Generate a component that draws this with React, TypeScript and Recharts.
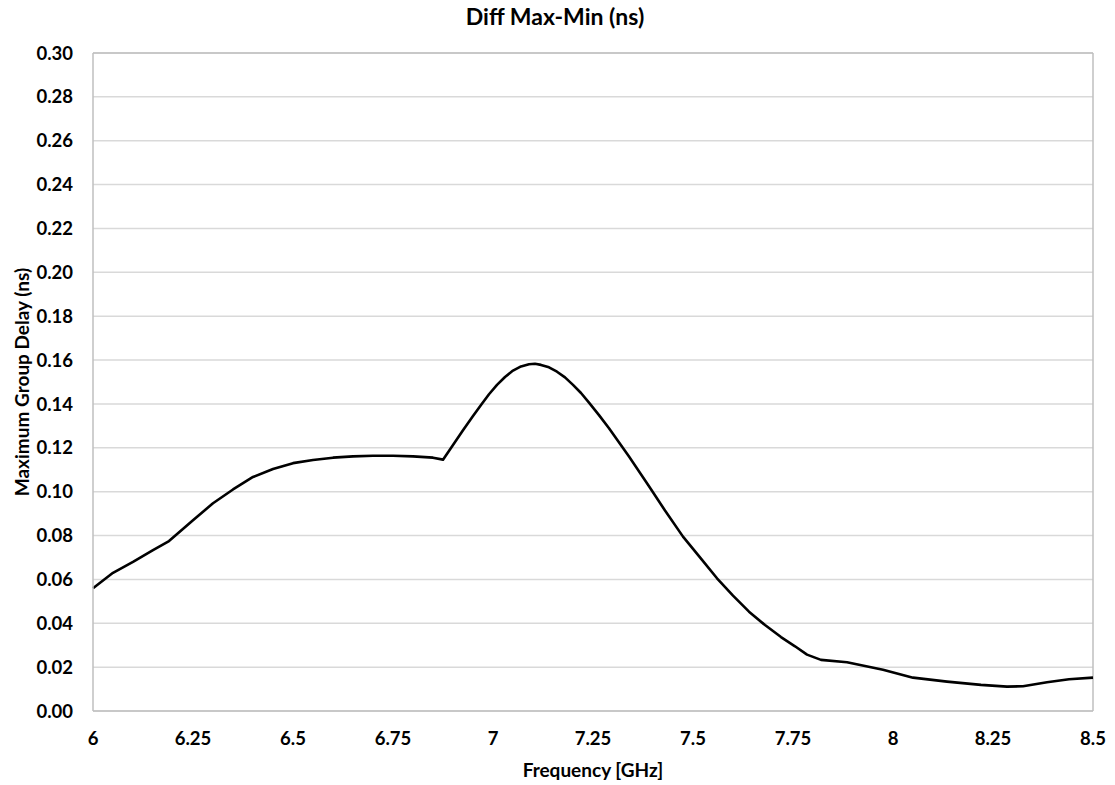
import { LineChart, Line, XAxis, YAxis, CartesianGrid, ReferenceLine, Label } from 'recharts';

const FREQUENCIES = [
  6.0, 6.05, 6.1, 6.15, 6.19, 6.25, 6.3, 6.35, 6.4, 6.45, 6.5, 6.55, 6.6, 6.65, 6.7, 6.75, 6.8, 6.85, 6.875,
  6.925, 6.95, 6.97, 6.99, 7.01, 7.03, 7.05, 7.07, 7.09, 7.105, 7.12, 7.14, 7.16, 7.18, 7.2, 7.22, 7.24,
  7.265, 7.29, 7.34, 7.39, 7.43, 7.475, 7.52, 7.56, 7.6, 7.64, 7.68, 7.72, 7.755, 7.785, 7.82, 7.885,
  7.975, 8.05, 8.135, 8.22, 8.285, 8.325, 8.385, 8.44, 8.5,
];

const DIFF_NS = [
  0.056, 0.063, 0.068, 0.0734, 0.0775, 0.087, 0.0947, 0.101, 0.1067, 0.1103, 0.113, 0.1144, 0.1155, 0.1161,
  0.1164, 0.1164, 0.1161, 0.1155, 0.1146, 0.128, 0.1345, 0.1395, 0.1444, 0.1487, 0.1523, 0.1552, 0.1571,
  0.1581, 0.1583, 0.1578, 0.1567, 0.1547, 0.1521, 0.1487, 0.145, 0.1406, 0.1349, 0.1289, 0.116, 0.1025,
  0.0914, 0.0795, 0.0695, 0.0605, 0.0526, 0.0453, 0.0392, 0.0337, 0.0295, 0.0257, 0.0233, 0.0222, 0.0188,
  0.0152, 0.0134, 0.0119, 0.0111, 0.0113, 0.0131, 0.0145, 0.0152,
];

const X_TICKS = [6, 6.25, 6.5, 6.75, 7, 7.25, 7.5, 7.75, 8, 8.25, 8.5];
const Y_TICKS = [0, 0.02, 0.04, 0.06, 0.08, 0.1, 0.12, 0.14, 0.16, 0.18, 0.2, 0.22, 0.24, 0.26, 0.28, 0.3];

const data = FREQUENCIES.map((f, i) => ({ freq: f, diff: DIFF_NS[i] }));

const FONT = 'Lato, "Open Sans", sans-serif';
const tickStyle = { fontFamily: FONT, fontSize: 18.5, fontWeight: 700, fill: '#000' };
const labelStyle = { fontFamily: FONT, fontSize: 19, fontWeight: 700, fill: '#000' };

export default function App() {
  return (
    <div style={{ position: 'absolute', left: 0, top: 0, width: 1115, height: 785, background: '#fff' }}>
      {/* title sits above the plot, a bit left of page centre like the original */}
      <div
        style={{
          position: 'absolute',
          top: 2,
          left: 0,
          width: 1110,
          textAlign: 'center',
          fontFamily: FONT,
          fontWeight: 700,
          fontSize: 23,
          color: '#000',
        }}
      >
        Diff Max-Min (ns)
      </div>
      <LineChart width={1115} height={785} data={data} margin={{ top: 53, right: 22, bottom: 0, left: 0 }}>
        <CartesianGrid stroke="#d9d9d9" strokeWidth={1.5} vertical={false} />
        <XAxis
          dataKey="freq"
          type="number"
          domain={[6, 8.5]}
          ticks={X_TICKS}
          height={74}
          tickLine={false}
          tickSize={0}
          tickMargin={21}
          axisLine={{ stroke: '#bfbfbf', strokeWidth: 1.5 }}
          tick={tickStyle}
          interval={0}
        >
          <Label value="Frequency [GHz]" position="insideBottom" offset={8} style={labelStyle} />
        </XAxis>
        <YAxis
          type="number"
          domain={[0, 0.3]}
          ticks={Y_TICKS}
          width={93}
          tickLine={false}
          tickSize={0}
          tickMargin={20}
          axisLine={{ stroke: '#bfbfbf', strokeWidth: 1.5 }}
          tick={tickStyle}
          tickFormatter={(v: number) => v.toFixed(2)}
          interval={0}
        >
          <Label
            value="Maximum Group Delay (ns)"
            angle={-90}
            position="insideLeft"
            offset={22}
            style={{ ...labelStyle, textAnchor: 'middle' }}
          />
        </YAxis>
        <ReferenceLine y={0.3} stroke="#bfbfbf" strokeWidth={1.5} />
        <ReferenceLine x={8.5} stroke="#bfbfbf" strokeWidth={1.5} />
        <Line
          type="linear"
          dataKey="diff"
          stroke="#000"
          strokeWidth={2.6}
          strokeLinejoin="round"
          dot={false}
          isAnimationActive={false}
        />
      </LineChart>
    </div>
  );
}
